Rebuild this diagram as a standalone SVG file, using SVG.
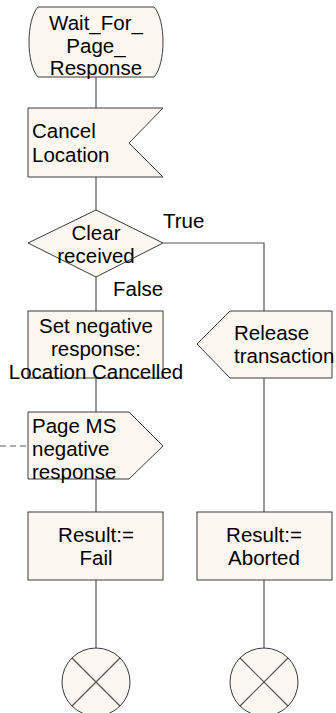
<svg xmlns="http://www.w3.org/2000/svg" width="336" height="713" viewBox="0 0 336 713">
<style>
.s{fill:#fdf7f1;stroke:#3a3a3a;stroke-width:1}
.c{fill:none;stroke:#555;stroke-width:1.2}
.d{fill:none;stroke:#555;stroke-width:1;stroke-dasharray:6,4}
text{font-family:"Liberation Sans",Arial,sans-serif;font-size:20.5px;fill:#000}
.m{text-anchor:middle}
</style>
<rect width="336" height="713" fill="#fff"/>
<g id="connectors">
<line class="c" x1="96" y1="77" x2="96" y2="108"/>
<line class="c" x1="96" y1="177" x2="96" y2="210"/>
<line class="c" x1="96" y1="277" x2="96" y2="311"/>
<polyline class="c" points="163,243 264,243 264,311"/>
<line class="c" x1="96" y1="378" x2="96" y2="412"/>
<line class="c" x1="96" y1="479" x2="96" y2="512"/>
<line class="c" x1="264" y1="378" x2="264" y2="512"/>
<line class="c" x1="96" y1="580" x2="96" y2="648"/>
<line class="c" x1="264" y1="580" x2="264" y2="648"/>
<line class="d" x1="0" y1="446" x2="28" y2="446"/>
<text x="163" y="228">True</text>
<text x="113" y="296">False</text>
</g>
<g id="state">
<path class="s" d="M38,7 H154 C166,20 166,64 154,77 H38 C26,64 26,20 38,7 Z"/>
<text class="m" x="96" y="30">Wait_For_</text>
<text class="m" x="96" y="53">Page_</text>
<text class="m" x="96" y="75">Response</text>
</g>
<g id="cancel">
<polygon class="s" points="28,108 163,108 129,143 163,177 28,177"/>
<text x="32" y="138">Cancel</text>
<text x="32" y="162">Location</text>
</g>
<g id="decision">
<polygon class="s" points="28,243 96,210 163,243 96,277"/>
<text class="m" x="96" y="240">Clear</text>
<text class="m" x="96" y="263">received</text>
</g>
<g id="setneg">
<rect class="s" x="28" y="311" width="135" height="67"/>
<text class="m" x="96" y="333">Set negative</text>
<text class="m" x="96" y="356">response:</text>
<text class="m" x="96" y="379">Location Cancelled</text>
</g>
<g id="release">
<polygon class="s" points="197,344 230,311 332,311 332,378 230,378"/>
<text x="234" y="340">Release</text>
<text x="234" y="363">transaction</text>
</g>
<g id="pagems">
<polygon class="s" points="28,412 129,412 163,446 129,479 28,479"/>
<text x="32" y="433">Page MS</text>
<text x="32" y="456">negative</text>
<text x="32" y="479">response</text>
</g>
<g id="fail">
<rect class="s" x="28" y="512" width="135" height="68"/>
<text class="m" x="96" y="542">Result:=</text>
<text class="m" x="96" y="565">Fail</text>
</g>
<g id="aborted">
<rect class="s" x="197" y="512" width="135" height="68"/>
<text class="m" x="264" y="542">Result:=</text>
<text class="m" x="264" y="565">Aborted</text>
</g>
<g id="stop1">
<circle class="s" cx="96" cy="682" r="34"/>
<line class="c" x1="72" y1="658" x2="120" y2="706" stroke="#333"/>
<line class="c" x1="120" y1="658" x2="72" y2="706" stroke="#333"/>
</g>
<g id="stop2">
<circle class="s" cx="264" cy="682" r="34"/>
<line class="c" x1="240" y1="658" x2="288" y2="706"/>
<line class="c" x1="288" y1="658" x2="240" y2="706"/>
</g>
</svg>
